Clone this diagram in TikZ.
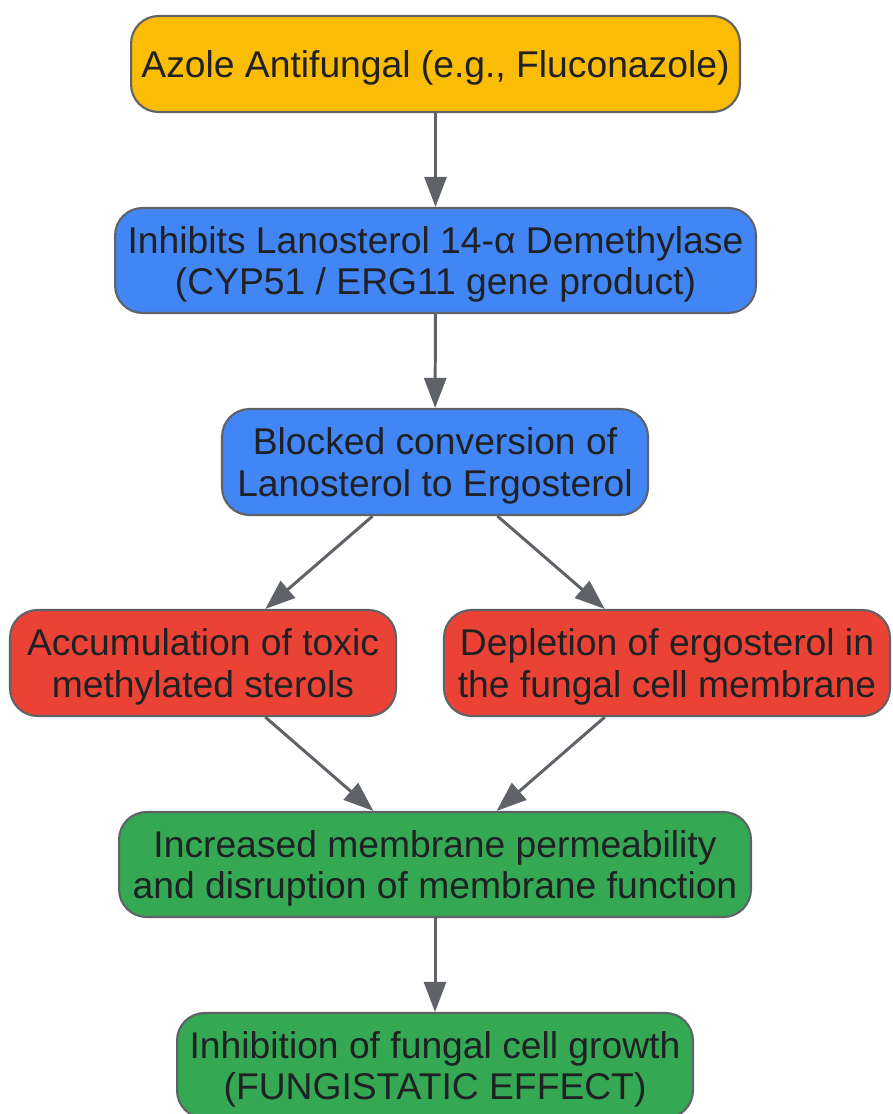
\documentclass[tikz,border=0pt]{standalone}
\usepackage{fontspec}
\setmainfont{Liberation Sans}
\usetikzlibrary{positioning, arrows.meta}
\definecolor{ink}{HTML}{202124}
\definecolor{edge}{HTML}{5f6368}
\definecolor{drug}{HTML}{fbbc05}
\definecolor{step}{HTML}{4285f4}
\definecolor{harm}{HTML}{ea4335}
\definecolor{gain}{HTML}{34a853}

\begin{document}
\begin{tikzpicture}[
  x=0.02cm, y=-0.02cm,
  font=\fontsize{21.2}{23.8}\selectfont,
  stage/.style={draw=edge, line width=1.2pt, rounded corners=0.55cm, text=ink, inner sep=0pt, text depth=0pt, minimum height=2.1cm, align=center},
  arr/.style={-{Triangle[length=0.6cm, width=0.44cm]}, line width=1.7pt, edge}
]
  \useasboundingbox (0,0) rectangle (892,1114);

  \node[stage, fill=drug, minimum width=12.18cm, minimum height=1.92cm] (azole) at (435.5,64) {Azole Antifungal (e.g., Fluconazole)};
  \node[stage, fill=step, minimum width=12.82cm] (cyp) at (435.5,260.5) {Inhibits Lanosterol 14-α Demethylase\\(CYP51 / ERG11 gene product)};
  \node[stage, fill=step, minimum width=8.52cm, minimum height=2.12cm] (block) at (435,462) {Blocked conversion of\\Lanosterol to Ergosterol};
  \node[stage, fill=harm, minimum width=7.72cm, minimum height=2.12cm] (toxic) at (203,663) {Accumulation of toxic\\methylated sterols};
  \node[stage, fill=harm, minimum width=8.92cm, minimum height=2.12cm] (deplete) at (667,663) {Depletion of ergosterol in\\the fungal cell membrane};
  \node[stage, fill=gain, minimum width=12.64cm] (perm) at (435,864.5) {Increased membrane permeability\\and disruption of membrane function};
  \node[stage, fill=gain, minimum width=10.32cm] (growth) at (435,1065.5) {Inhibition of fungal cell growth\\(FUNGISTATIC EFFECT)};

  \draw[arr] (azole) -- (cyp);
  \draw[arr] (cyp) -- (block);
  \draw[arr] (block) -- (toxic);
  \draw[arr] (block) -- (deplete);
  \draw[arr] (toxic) -- (perm);
  \draw[arr] (deplete) -- (perm);
  \draw[arr] (perm) -- (growth);
\end{tikzpicture}
\end{document}
